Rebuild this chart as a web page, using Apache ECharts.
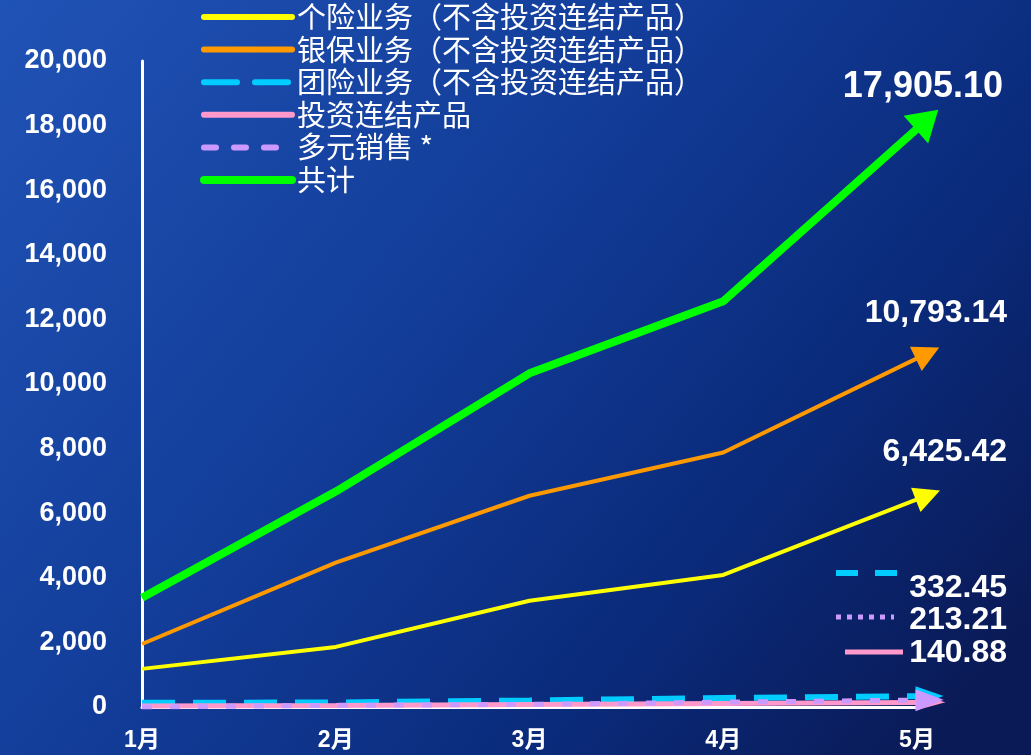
<!DOCTYPE html>
<html><head><meta charset="utf-8">
<script src="https://cdn.jsdelivr.net/npm/echarts@6/dist/echarts.min.js"></script>
<style>html,body{margin:0;padding:0;background:#0d3690}#c{width:1031px;height:755px}</style>
</head><body><div id="c"></div>
<script>
// ---- data ----
const months = ['1月', '2月', '3月', '4月', '5月'];
const yTicks = [0, 2000, 4000, 6000, 8000, 10000, 12000, 14000, 16000, 18000, 20000];
const geren = [1180, 1860, 3290, 4090, 6425.42];      // 个险业务
const yinbao = [1950, 4470, 6540, 7880, 10793.14];    // 银保业务
const tuanxian = [130, 140, 200, 280, 332.45];        // 团险业务
const touzi = [30, 50, 80, 110, 140.88];              // 投资连结产品
const duoyuan = [0, 50, 80, 150, 213.21];             // 多元销售
const total = [3380, 6670, 10330, 12560, 17905.10];   // 共计
const names = ['个险业务（不含投资连结产品）', '银保业务（不含投资连结产品）', '团险业务（不含投资连结产品）', '投资连结产品', '多元销售 *', '共计'];

const fmt = v => v.toLocaleString('en-US', {minimumFractionDigits: 2, maximumFractionDigits: 2});
const fontNum = '"Liberation Sans", Arial, sans-serif';

const defs = [
  {data: geren, color: '#ffff00', width: 4, type: 'solid', lw: 6, ltype: 'solid', arrow: [26, 26], z: 3},
  {data: yinbao, color: '#ff9900', width: 4, type: 'solid', lw: 6, ltype: 'solid', arrow: [27, 26], z: 4},
  {data: tuanxian, color: '#00ccff', width: 6, type: [33, 18], lw: 6, ltype: [33, 18], arrow: [20, 28], z: 5},
  {data: touzi, color: '#ff99cc', width: 5, type: 'solid', lw: 6, ltype: 'solid', arrow: [16, 30], z: 6},
  {data: duoyuan, color: '#cc99ff', width: 5, type: [10, 18], lw: 6, ltype: [12, 18], arrow: [22, 28], z: 7},
  {data: total, color: '#00ff00', width: 8, type: 'solid', lw: 8, ltype: 'solid', arrow: [37, 30], z: 8}
];

function buildSeries(rot) {
  return defs.map((d, i) => ({
    name: names[i],
    type: 'line',
    symbol: 'none',
    silent: true,
    animation: false,
    z: d.z,
    lineStyle: {color: d.color, width: d.width, type: d.type, cap: 'butt'},
    itemStyle: {color: d.color},
    data: d.data.map((v, k) => k === d.data.length - 1 ? {
      value: v, symbol: 'triangle', symbolSize: d.arrow,
      symbolRotate: rot ? rot[i].r : 0, symbolOffset: rot ? rot[i].o : [0, 0],
      itemStyle: {color: d.color}
    } : v)
  }));
}

const chart = echarts.init(document.getElementById('c'));
const option = {
  backgroundColor: {
    type: 'linear', x: 0, y: 0, x2: 0.9, y2: 1,
    colorStops: [
      {offset: 0, color: '#2053b6'},
      {offset: 0.45, color: '#123c98'},
      {offset: 0.75, color: '#0a2a7a'},
      {offset: 1, color: '#0a1a56'}
    ]
  },
  animation: false,
  grid: {left: 142, right: 114, top: 61, bottom: 48, containLabel: false},
  legend: {
    orient: 'vertical', left: 200, top: 2, padding: 0,
    itemWidth: 88, itemHeight: 8, itemGap: 2.6,
    data: names.map((n, i) => ({
      name: n,
      itemStyle: {opacity: 0},
      lineStyle: {color: defs[i].color, width: defs[i].lw, type: defs[i].ltype, cap: 'round'}
    })),
    textStyle: {color: '#ffffff', fontSize: 29, lineHeight: 30, fontFamily: '"Noto Sans CJK SC", sans-serif'},
    selectedMode: false
  },
  xAxis: {
    type: 'category', data: months, boundaryGap: false,
    axisLine: {show: true, lineStyle: {color: '#ffffff', width: 3}},
    axisTick: {show: false},
    splitLine: {show: false},
    axisLabel: {color: '#ffffff', fontSize: 23, fontWeight: 'bold', margin: 22, fontFamily: fontNum + ', "Noto Sans CJK SC"'}
  },
  yAxis: {
    type: 'value', min: yTicks[0], max: yTicks[yTicks.length - 1], interval: yTicks[1] - yTicks[0],
    axisLine: {show: true, lineStyle: {color: '#ffffff', width: 3}},
    axisTick: {show: false},
    splitLine: {show: false},
    axisLabel: {color: '#ffffff', fontSize: 27, fontWeight: 'bold', margin: 35, fontFamily: fontNum,
      formatter: v => v.toLocaleString('en-US')}
  },
  series: buildSeries(null)
};
chart.setOption(option);

// compute arrow directions and labels from the library's own scales
const rot = defs.map(d => {
  const n = d.data.length;
  const p1 = chart.convertToPixel({xAxisIndex: 0, yAxisIndex: 0}, [months[n - 2], d.data[n - 2]]);
  const p2 = chart.convertToPixel({xAxisIndex: 0, yAxisIndex: 0}, [months[n - 1], d.data[n - 1]]);
  const ang = Math.atan2(-(p2[1] - p1[1]), p2[0] - p1[0]);
  const half = d.arrow[1] * 0.45;
  return {r: ang * 180 / Math.PI - 90, o: [Math.cos(ang) * half, -Math.sin(ang) * half], p: p2};
});

const bigLabels = [
  {i: 5, size: 36, dx: 86, dy: -42},
  {i: 1, size: 32, dx: 90, dy: -45},
  {i: 0, size: 32, dx: 90, dy: -47}
];
const graphics = [];
bigLabels.forEach(b => {
  const p = rot[b.i].p;
  graphics.push({type: 'text', x: p[0] + b.dx, y: p[1] + b.dy, z: 20,
    style: {text: fmt(defs[b.i].data[defs[b.i].data.length - 1]), fill: '#ffffff',
      font: 'bold ' + b.size + 'px ' + fontNum, textAlign: 'right', textVerticalAlign: 'middle'}});
});
// small annotations (legend-like samples beside values)
const smalls = [
  {i: 2, y: 588, lx1: 836, lx2: 898, ly: 573, dash: [22, 17], w: 6},
  {i: 4, y: 620, lx1: 836, lx2: 894, ly: 617, dash: [5, 6], w: 5},
  {i: 3, y: 653, lx1: 845, lx2: 903, ly: 652, dash: null, w: 5}
];
smalls.forEach(s => {
  graphics.push({type: 'line', z: 20, shape: {x1: s.lx1, y1: s.ly, x2: s.lx2, y2: s.ly},
    style: {stroke: defs[s.i].color, lineWidth: s.w, lineDash: s.dash}});
  graphics.push({type: 'text', x: 1007, y: s.y, z: 20,
    style: {text: fmt(defs[s.i].data[defs[s.i].data.length - 1]), fill: '#ffffff',
      font: 'bold 32px ' + fontNum, textAlign: 'right', textVerticalAlign: 'middle'}});
});

chart.setOption({series: buildSeries(rot), graphic: graphics});
</script>
</body></html>
